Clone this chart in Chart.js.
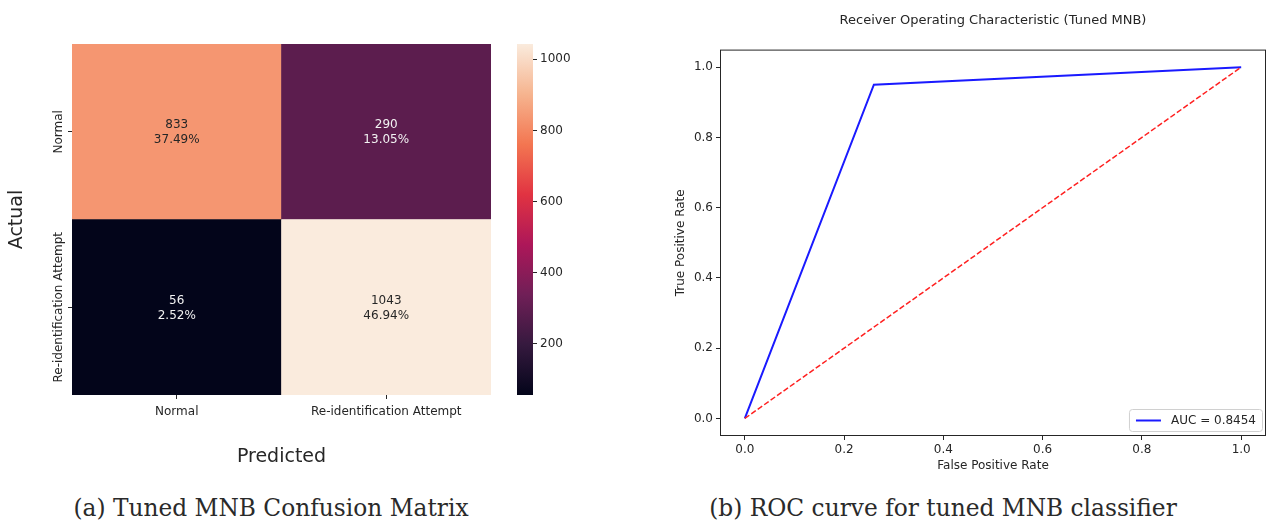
<!DOCTYPE html>
<html lang="en">
<head>
  <meta charset="UTF-8">
  <title>Tuned MNB</title>
  <script src="https://cdn.jsdelivr.net/npm/chart.js"></script>
  <style>
    body { margin: 0; background: white; width: 1268px; height: 523px; position: relative; overflow: hidden; font-family: "DejaVu Sans", sans-serif; }
    .box { position: absolute; }
    .caption { position: absolute; top: 494px; font-family: "DejaVu Serif", serif; font-size: 23.3px; color: #2a2a2a; white-space: nowrap; transform: translateX(-50%); }
  </style>
</head>
<body>
  <div class="box" style="left:0;top:0;width:500px;height:480px"><canvas id="cm"></canvas></div>
  <div class="box" style="left:505px;top:0;width:80px;height:480px"><canvas id="cbar"></canvas></div>
  <div class="box" style="left:660px;top:0;width:608px;height:480px"><canvas id="roc"></canvas></div>
  <div class="caption" style="left:271px">(a) Tuned MNB Confusion Matrix</div>
  <div class="caption" style="left:943px">(b) ROC curve for tuned MNB classifier</div>

  <script>
    // confusion matrix (rows = actual, columns = predicted)
    const predictedLabels = ["Normal", "Re-identification Attempt"];
    const actualLabels = ["Normal", "Re-identification Attempt"];
    const rowNormal = [833, 290];
    const rowReid = [56, 1043];
    const cbarTicks = [200, 400, 600, 800, 1000];

    // ROC curve
    const fpr = [0, 0.26, 1];
    const tpr = [0, 0.95, 1];
    const chanceX = [0, 1];
    const chanceY = [0, 1];
    const aucLabel = "AUC = 0.8454";
    const rocTicks = [0, 0.2, 0.4, 0.6, 0.8, 1.0];

    const TXT = "#262626";
    const FONT = "'DejaVu Sans', sans-serif";

    // rocket colormap
    const rocket = [
      [0, [3, 5, 26]], [1/7, [53, 25, 62]], [2/7, [112, 31, 87]], [3/7, [173, 23, 89]],
      [4/7, [225, 51, 66]], [5/7, [243, 118, 81]], [6/7, [246, 180, 143]], [1, [250, 235, 221]]
    ];
    const all = rowNormal.concat(rowReid);
    const vmin = Math.min(...all), vmax = Math.max(...all);
    const total = all.reduce((a, b) => a + b, 0);

    function rocketAt(t) {
      t = Math.max(0, Math.min(1, t));
      for (let i = 1; i < rocket.length; i++) {
        if (t <= rocket[i][0]) {
          const [t0, c0] = rocket[i - 1], [t1, c1] = rocket[i];
          const f = (t - t0) / (t1 - t0);
          const c = c0.map((v, k) => Math.round(v + (c1[k] - v) * f));
          return `rgb(${c[0]},${c[1]},${c[2]})`;
        }
      }
    }
    const colorOf = v => rocketAt((v - vmin) / (vmax - vmin));

    // heatmap: stacked unit bars, bottom row first
    const rows = [
      { label: actualLabels[1], counts: rowReid },
      { label: actualLabels[0], counts: rowNormal }
    ];

    const cellText = {
      id: "cellText",
      afterDatasetsDraw(chart) {
        const ctx = chart.ctx;
        ctx.save();
        ctx.font = "12px " + FONT;
        ctx.textAlign = "center";
        ctx.textBaseline = "middle";
        rows.forEach((r, i) => {
          chart.getDatasetMeta(i).data.forEach((el, j) => {
            const v = r.counts[j];
            const t = (v - vmin) / (vmax - vmin);
            ctx.fillStyle = t > 0.6 ? TXT : "#f2f2f2";
            const cy = (el.y + el.base) / 2;
            ctx.fillText(String(v), el.x, cy - 6.5);
            ctx.fillText((v / total * 100).toFixed(2) + "%", el.x, cy + 8.5);
          });
        });
        // y tick labels, rotated
        ctx.fillStyle = TXT;
        rows.forEach((r, i) => {
          const el = chart.getDatasetMeta(i).data[0];
          const cy = (el.y + el.base) / 2;
          ctx.save();
          ctx.translate(chart.chartArea.left - 13, cy);
          ctx.rotate(-Math.PI / 2);
          ctx.fillText(r.label, 0, 0);
          ctx.restore();
        });
        ctx.restore();
      }
    };

    new Chart(document.getElementById("cm"), {
      type: "bar",
      data: {
        labels: predictedLabels,
        datasets: rows.map(r => ({
          label: r.label,
          data: r.counts.map(() => 1),
          backgroundColor: r.counts.map(colorOf),
          barPercentage: 1,
          categoryPercentage: 1,
          borderWidth: 0
        }))
      },
      options: {
        responsive: true,
        maintainAspectRatio: false,
        animation: false,
        layout: { padding: { top: 44, right: 9, left: 0, bottom: 0 } },
        plugins: { legend: { display: false }, tooltip: { enabled: false } },
        scales: {
          x: {
            stacked: true,
            grid: { offset: false, drawOnChartArea: false, drawTicks: true, tickLength: 4, color: TXT },
            border: { display: false },
            ticks: { color: TXT, font: { size: 12, family: FONT }, padding: 6, maxRotation: 0 },
            title: { display: true, text: "Predicted", color: TXT, font: { size: 19, family: FONT }, padding: { top: 0, bottom: 12 } },
            afterFit: s => { s.height = 85; }
          },
          y: {
            stacked: true,
            min: 0, max: 2,
            afterBuildTicks: s => { s.ticks = [{ value: 0.5 }, { value: 1.5 }]; },
            grid: { drawOnChartArea: false, drawTicks: true, tickLength: 4, color: TXT },
            border: { display: false },
            ticks: { display: false },
            title: { display: true, text: "Actual", color: TXT, font: { size: 19, family: FONT }, padding: { top: 6, bottom: 0 } },
            afterFit: s => { s.width = 72; }
          }
        }
      },
      plugins: [cellText]
    });

    // colorbar
    const cbarFill = {
      id: "cbarFill",
      beforeDatasetsDraw(chart) {
        const { ctx, chartArea: a } = chart;
        const ys = chart.scales.y;
        const y0 = ys.getPixelForValue(vmin), y1 = ys.getPixelForValue(vmax);
        const g = ctx.createLinearGradient(0, y0, 0, y1);
        rocket.forEach(([t, c]) => g.addColorStop(t, `rgb(${c[0]},${c[1]},${c[2]})`));
        ctx.save();
        ctx.fillStyle = g;
        ctx.fillRect(a.left, y1, a.right - a.left, y0 - y1);
        ctx.restore();
      }
    };

    new Chart(document.getElementById("cbar"), {
      type: "bar",
      data: { labels: [""], datasets: [] },
      options: {
        responsive: true,
        maintainAspectRatio: false,
        animation: false,
        layout: { padding: { top: 44, left: 12, right: 0, bottom: 85 } },
        plugins: { legend: { display: false }, tooltip: { enabled: false } },
        scales: {
          x: { display: false },
          y: {
            position: "right",
            min: vmin, max: vmax,
            afterBuildTicks: s => { s.ticks = cbarTicks.map(v => ({ value: v })); },
            grid: { drawOnChartArea: false, drawTicks: true, tickLength: 4, color: TXT },
            border: { display: false },
            ticks: { color: TXT, font: { size: 12, family: FONT }, padding: 3, callback: v => String(v) },
            afterFit: s => { s.width = 52; }
          }
        }
      },
      plugins: [cbarFill]
    });

    // ROC
    const frameAndLegend = {
      id: "frameAndLegend",
      afterDraw(chart) {
        const { ctx, chartArea: a } = chart;
        ctx.save();
        ctx.strokeStyle = TXT;
        ctx.lineWidth = 1;
        ctx.strokeRect(a.left + 0.5, a.top + 0.5, a.right - a.left - 1, a.bottom - a.top - 1);

        const ds = chart.data.datasets[0];
        ctx.font = "12px " + FONT;
        const tw = ctx.measureText(ds.label).width;
        const w = tw + 48, h = 22;
        const x = a.right - 4 - w, y = a.bottom - 5 - h;
        ctx.fillStyle = "rgba(255,255,255,0.8)";
        ctx.strokeStyle = "#d0d0d0";
        ctx.beginPath();
        ctx.roundRect(x + 0.5, y + 0.5, w, h, 3);
        ctx.fill();
        ctx.stroke();
        ctx.strokeStyle = ds.borderColor;
        ctx.lineWidth = ds.borderWidth;
        ctx.beginPath();
        ctx.moveTo(x + 7, y + h / 2 + 0.5);
        ctx.lineTo(x + 32, y + h / 2 + 0.5);
        ctx.stroke();
        ctx.fillStyle = TXT;
        ctx.textBaseline = "middle";
        ctx.fillText(ds.label, x + 42, y + h / 2 + 1);
        ctx.restore();
      }
    };

    const axisOpts = (title, pos, pad) => ({
      type: "linear",
      position: pos,
      min: -0.05, max: 1.05,
      afterBuildTicks: s => { s.ticks = rocTicks.map(v => ({ value: v })); },
      grid: { drawOnChartArea: false, drawTicks: true, tickLength: 4, color: TXT },
      border: { display: false },
      ticks: { color: TXT, font: { size: 12, family: FONT }, padding: 3, maxRotation: 0, callback: v => v.toFixed(1) },
      title: { display: true, text: title, color: TXT, font: { size: 12, family: FONT }, padding: pad }
    });

    new Chart(document.getElementById("roc"), {
      type: "scatter",
      data: {
        datasets: [
          {
            label: aucLabel,
            data: fpr.map((x, i) => ({ x, y: tpr[i] })),
            showLine: true, borderColor: "#1a1aff", borderWidth: 2,
            pointRadius: 0, order: 1
          },
          {
            label: "",
            data: chanceX.map((x, i) => ({ x, y: chanceY[i] })),
            showLine: true, borderColor: "#ff2020", borderWidth: 1.5, borderDash: [5.5, 2.4],
            pointRadius: 0, order: 0
          }
        ]
      },
      options: {
        responsive: true,
        maintainAspectRatio: false,
        animation: false,
        layout: { padding: { top: 0, right: 2, left: 0, bottom: 0 } },
        plugins: {
          legend: { display: false },
          tooltip: { enabled: false },
          title: {
            display: true, text: "Receiver Operating Characteristic (Tuned MNB)",
            fullSize: false, color: TXT, font: { size: 13, family: FONT, weight: "normal" },
            padding: { top: 13, bottom: 21 }
          }
        },
        scales: {
          x: Object.assign(axisOpts("False Positive Rate", "bottom", { top: 0, bottom: 7 }), { afterFit: s => { s.height = 44; } }),
          y: Object.assign(axisOpts("True Positive Rate", "left", { top: 14, bottom: 14 }), { afterFit: s => { s.width = 60; } })
        }
      },
      plugins: [frameAndLegend]
    });
  </script>
</body>
</html>
